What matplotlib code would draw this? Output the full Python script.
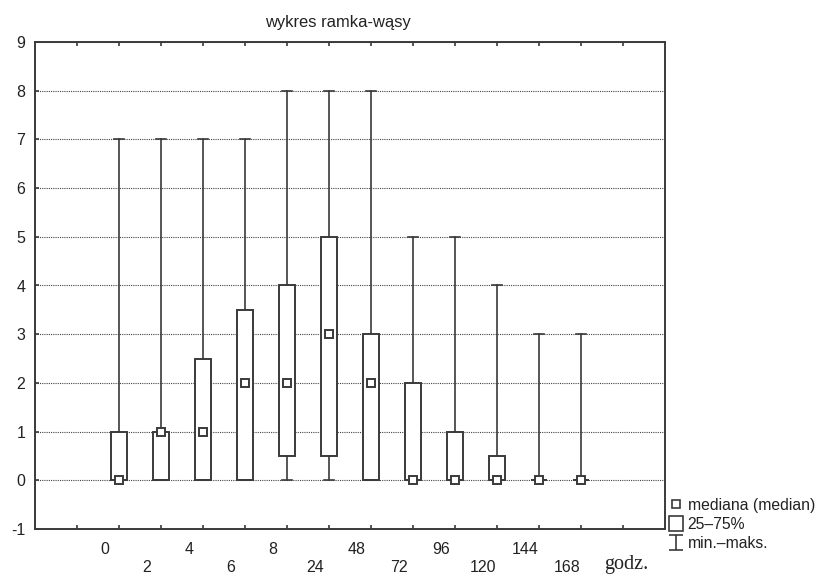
import numpy as np
import matplotlib.pyplot as plt
import matplotlib.transforms as mtransforms
from matplotlib.patches import Rectangle
from matplotlib.lines import Line2D
from matplotlib.path import Path

plt.rcParams['font.family'] = ['Liberation Sans', 'DejaVu Sans']
plt.rcParams['axes.unicode_minus'] = False

# data (hours after start)
hours = ['0', '2', '4', '6', '8', '24', '48', '72', '96', '120', '144', '168']
mins = [0, 0, 0, 0, 0, 0, 0, 0, 0, 0, 0, 0]
q1 = [0, 0, 0, 0, 0.5, 0.5, 0, 0, 0, 0, 0, 0]
medians = [0, 1, 1, 2, 2, 3, 2, 0, 0, 0, 0, 0]
q3 = [1, 1, 2.5, 3.5, 4, 5, 3, 2, 1, 0.5, 0, 0]
maxs = [7, 7, 7, 7, 8, 8, 8, 5, 5, 4, 3, 3]

ink = '#3a3a3a'
pos = np.arange(len(hours)) + 2

stats = []
for lo, a, m, b, hi in zip(mins, q1, medians, q3, maxs):
    stats.append(dict(whislo=lo, q1=a, med=m, q3=b, whishi=hi, fliers=[]))

fig = plt.figure(figsize=(8.18, 5.74), dpi=100)
ax = fig.add_axes([35/818, 1-529/574, 630/818, 487/574])

ax.bxp(stats, positions=pos, widths=0.4, capwidths=0.25, showfliers=False,
       patch_artist=True, manage_ticks=False,
       boxprops=dict(facecolor='white', edgecolor=ink, linewidth=1.4),
       whiskerprops=dict(color=ink, linewidth=1.2),
       capprops=dict(color=ink, linewidth=1.2),
       medianprops=dict(visible=False), zorder=3)
ax.plot(pos, medians, 's', ms=6, mfc='white', mec=ink, mew=1.4, zorder=4)

ax.set_xlim(0, 15)
ax.set_ylim(-1, 9)
ax.set_yticks(range(-1, 10))
ax.set_xticks(range(1, 15))
ax.set_xticklabels([])
ax.tick_params(axis='both', direction='in', length=3, width=1.2, color=ink,
               labelsize=11.5, labelcolor='#222222')
ax.tick_params(axis='x', top=True)
ax.tick_params(axis='y', pad=7)
ax.yaxis.grid(True, linestyle=(0, (1, 1)), color='#444444', linewidth=0.8)
ax.set_axisbelow(True)
for sp in ax.spines.values():
    sp.set_color(ink)
    sp.set_linewidth(1.4)

# staggered hour labels
trans = mtransforms.blended_transform_factory(ax.transData, ax.transAxes)
for i, (p, h) in enumerate(zip(pos, hours)):
    yy = -25/487 if i % 2 == 0 else -43/487
    ax.text(p - 1/3, yy, h, transform=trans, ha='center', va='baseline',
            fontsize=11.5, color='#222222')
ax.text(14.07, -40/487, 'godz.', transform=trans, ha='center', va='baseline',
        fontsize=14.5, family=['Liberation Serif', 'DejaVu Serif'], color='#222222')

fig.text(337.5/818, 1-27/574, 'wykres ramka-wąsy', ha='center', va='baseline',
         fontsize=11.9, color='#222222')

# legend
whisk = Path([(-0.9, 1), (0.9, 1), (0, 1), (0, -1), (-0.9, -1), (0.9, -1)],
             [Path.MOVETO, Path.LINETO, Path.MOVETO, Path.LINETO, Path.MOVETO, Path.LINETO])
handles = [Line2D([], [], marker='s', ls='none', ms=5.5, mfc='white', mec=ink, mew=1.2),
           Rectangle((0, 0), 1, 1, fc='white', ec=ink, lw=1.2),
           Line2D([], [], marker=whisk, ls='none', ms=10.8, mfc='none', mec=ink, mew=1.2)]
labels = ['mediana (median)', '25–75%', 'min.–maks.']
fig.legend(handles, labels, loc='upper left', bbox_to_anchor=(669/818, 1-497.5/574),
           bbox_transform=fig.transFigure, frameon=False, borderpad=0, borderaxespad=0,
           handlelength=0.88, handleheight=1.08, handletextpad=0.3, labelspacing=0.2,
           fontsize=11.3, labelcolor='#222222')

fig.savefig('out.png', dpi=100)
